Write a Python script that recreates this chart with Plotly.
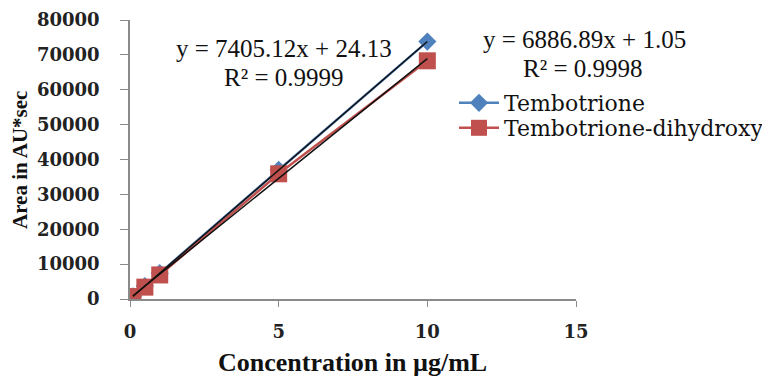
import numpy as np
import plotly.graph_objects as go

conc = [0.1, 0.5, 1, 5, 10]
tembotrione = [760, 3700, 7400, 37000, 73800]
dihydroxy = [700, 3400, 6900, 35900, 68300]
series_names = ["Tembotrione", "Tembotrione-dihydroxy"]
eq_lines = ["y = 7405.12x + 24.13", "y = 6886.89x + 1.05"]
r2_lines = ["R² = 0.9999", "R² = 0.9998"]
x_title = "Concentration in µg/mL"
y_title = "Area in AU*sec"

# page offset of the figure inside the browser window
OFF = 8
W, H = 770 - OFF, 377 - OFF
# plot area in screen pixels
PL, PR, PT, PB = 130, 576, 20, 299
L, R, T, B = PL - OFF, W - (PR - OFF), PT - OFF, H - (PB - OFF)


def px(sx):
    return (sx - PL) / (PR - PL)


def py(sy):
    return (PB - sy) / (PB - PT)


fig = go.Figure()
fig.add_trace(go.Scatter(x=conc, y=tembotrione, name=series_names[0], mode="lines+markers",
                         line=dict(color="#4F81BD", width=2.5), legend="legend",
                         marker=dict(symbol="diamond", size=14, color="#4F81BD")))
fig.add_trace(go.Scatter(x=conc, y=dihydroxy, name=series_names[1], mode="lines+markers",
                         line=dict(color="#C0504D", width=2.5), legend="legend2",
                         marker=dict(symbol="square", size=17, color="#C0504D")))

# linear trendlines fitted to the data
for ys in (tembotrione, dihydroxy):
    m, b = np.polyfit(conc, ys, 1)
    xs = [conc[0], conc[-1]]
    fig.add_trace(go.Scatter(x=xs, y=[m * v + b for v in xs], mode="lines",
                             line=dict(color="#111111", width=1.5), showlegend=False,
                             hoverinfo="skip"))

tick_font = dict(family="DejaVu Serif", size=18, color="#222222", weight="bold")
leg_font = dict(family="DejaVu Serif", size=22, color="#111111")


def leg(sy):
    return dict(xref="container", yref="container", x=(454 - OFF) / W, y=1 - (sy - OFF) / H,
                xanchor="left", yanchor="middle", font=leg_font,
                bgcolor="rgba(0,0,0,0)", itemwidth=40)


fig.update_layout(
    width=W, height=H,
    margin=dict(l=L, r=R, t=T, b=B, autoexpand=False),
    paper_bgcolor="white", plot_bgcolor="white",
    showlegend=True,
    legend=leg(103), legend2=leg(128),
    xaxis=dict(range=[0, 15], dtick=5, showgrid=False, zeroline=False, automargin=False,
               showline=True, linecolor="#8a8a8a", linewidth=1.5,
               ticks="outside", ticklen=6, tickcolor="#8a8a8a",
               tickfont=tick_font, ticklabelstandoff=10),
    yaxis=dict(range=[0, 80000], dtick=10000, showgrid=False, zeroline=False, automargin=False,
               showline=True, linecolor="#8a8a8a", linewidth=1.5,
               ticks="outside", ticklen=8, tickcolor="#8a8a8a",
               tickfont=tick_font, tickformat="d", ticklabelstandoff=17),
)

fig.add_annotation(text="<b>" + x_title + "</b>", xref="paper", yref="paper",
                   x=px(352), y=py(362), xanchor="center", yanchor="middle", showarrow=False,
                   font=dict(family="Liberation Serif", size=26, color="#111111"))
fig.add_annotation(text="<b>" + y_title + "</b>", xref="paper", yref="paper", textangle=-90,
                   x=px(20), y=py(160), xanchor="center", yanchor="middle", showarrow=False,
                   font=dict(family="Liberation Serif", size=21, color="#111111"))

# (x of equation, x of R², y boundary between the two lines)
eq_pos = [(284, 284, 63), (584, 583, 54)]
for i in range(2):
    ex, rx, yb = eq_pos[i]
    fig.add_annotation(text=eq_lines[i], xref="paper", yref="paper", borderpad=0,
                       x=px(ex), y=py(yb), xanchor="center", yanchor="bottom", showarrow=False,
                       font=dict(family="Liberation Serif", size=25, color="#111111"))
    fig.add_annotation(text=r2_lines[i], xref="paper", yref="paper", borderpad=0,
                       x=px(rx), y=py(yb), xanchor="center", yanchor="top", showarrow=False,
                       font=dict(family="Liberation Serif", size=25, color="#111111"))

fig.write_html("out.html")
